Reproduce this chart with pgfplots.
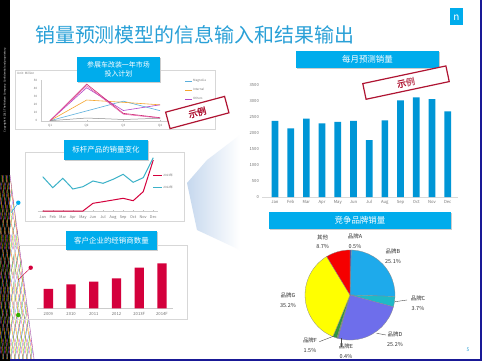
\documentclass[border=0pt]{standalone}
\usepackage{pgfplots}
\pgfplotsset{compat=1.18}
\usepackage{pgfplotstable}
\usepackage{fontspec}
\setmainfont{Noto Sans CJK SC}
\newfontfamily\stampfont[FakeBold=2]{Noto Sans CJK SC}

\definecolor{titleblue}{RGB}{41,160,215}
\definecolor{boxblue}{RGB}{0,172,236}
\definecolor{barblue}{RGB}{0,150,214}
\definecolor{crimson}{RGB}{212,0,60}
\definecolor{tealline}{RGB}{60,178,200}
\definecolor{stampred}{RGB}{175,20,50}
\definecolor{navyborder}{RGB}{25,25,150}
\definecolor{framegray}{RGB}{215,215,215}
\definecolor{shadeblue}{RGB}{198,216,238}
\definecolor{lblue}{RGB}{90,175,220}
\definecolor{lorange}{RGB}{245,165,45}
\definecolor{lpurple}{RGB}{180,70,200}
\definecolor{lmagenta}{RGB}{205,35,110}
\definecolor{lpink}{RGB}{225,80,160}
\definecolor{lgray}{RGB}{140,140,140}
\definecolor{pie0}{RGB}{40,80,200}
\definecolor{pie1}{RGB}{30,170,235}
\definecolor{pie2}{RGB}{30,185,200}
\definecolor{pie3}{RGB}{110,110,235}
\definecolor{pie4}{RGB}{120,120,120}
\definecolor{pie5}{RGB}{50,150,60}
\definecolor{pie6}{RGB}{255,255,0}
\definecolor{pie7}{RGB}{245,0,0}

\pgfplotstableread{
idx pct
0 0.5
1 25.1
2 3.7
3 25.2
4 0.4
5 1.5
6 35.2
7 8.7
}\piedata

\pgfplotsset{
  every axis/.append style={
    scale only axis,
    axis line style={draw=black!20, line width=0.4bp},
    tick style={draw=black!25, line width=0.3bp},
    /pgf/number format/assume math mode=true,
    tick label style={text=black!55},
  },
}

\begin{document}
\begin{tikzpicture}
\path[use as bounding box] (0,0) rectangle (482bp,-361bp);
\begin{scope}[x=1bp,y=-1bp]
  \fill[white] (0,0) rectangle (482,361);
  % light gradient shape
  \shade[left color=shadeblue, right color=white] (240,135) -- (207,160) -- (187,183) -- (197,230) -- (240,250) -- cycle;
  % left strip and mesh
  \fill[black] (0,0) rectangle (10,361);
  \begin{scope}
    \clip (0,175) -- (10,175) -- (34,359) -- (0,359) -- cycle;
    \foreach \i in {0,...,34} {
      \draw[red!70, line width=0.25bp] (\i*4-50,175) -- (\i*4,361);
      \draw[blue!60, line width=0.25bp] (\i*4,175) -- (\i*4-50,361);
      \draw[yellow!80!orange, line width=0.25bp] (\i*4-30,175) -- (\i*4-8,361);
      \draw[green!60!black, line width=0.2bp] (\i*4-10,175) -- (\i*4-38,361);
    }
  \end{scope}
  \draw[violet!70, line width=0.4bp] (10,175) -- (34,359);
  \node[rotate=90, text=white, font=\fontsize{2.6}{3}\selectfont, inner sep=0] at (5,90) {Copyright © 2013 The Nielsen Company. Confidential and proprietary.};
  % dots
  \draw[boxblue, line width=0.4bp] (18.3,202.7) -- (11,213);
  \fill[boxblue] (18.3,202.7) circle (2.2);
  \draw[crimson, line width=0.4bp] (30.7,267.7) -- (18,280);
  \fill[crimson] (30.7,267.7) circle (2.2);
  \fill[green!60!black!80!yellow] (18.3,315) circle (2.2);
  % borders
  \fill[navyborder] (479.5,0) rectangle (482,361);
  \fill[navyborder] (10,359) rectangle (482,361);
  % logo
  \fill[boxblue] (450,8.3) rectangle (462.7,25);
  \node[text=white, font=\fontsize{10}{10}\selectfont, inner sep=0] at (456.3,17.8) {n};
  % title
  \node[anchor=base west, text=titleblue, font=\fontsize{20}{24}\selectfont, inner sep=0] at (35,42) {销量预测模型的信息输入和结果输出};
  % frames
  \draw[framegray, line width=0.5bp] (15,70) rectangle (215,129);
  \draw[framegray, line width=0.5bp] (25,152) rectangle (184,221);
  \draw[framegray, line width=0.5bp] (14,245) rectangle (187,319);
  % title boxes
  \fill[black!20] (78,58) rectangle (161,83);
  \fill[boxblue] (77,57) rectangle (160,82);
  \node[text=white, align=center, font=\fontsize{7}{9}\selectfont, inner sep=0] at (118.5,69.5) {参展车改装一年市场\\投入计划};
  \fill[black!20] (65,141) rectangle (149,161);
  \fill[boxblue] (64,140) rectangle (148,160);
  \node[text=white, font=\fontsize{7.5}{9}\selectfont, inner sep=0] at (106,150) {标杆产品的销量变化};
  \fill[black!20] (67,232) rectangle (158,251);
  \fill[boxblue] (66,231) rectangle (157,250);
  \node[text=white, font=\fontsize{7.5}{9}\selectfont, inner sep=0] at (111.5,240.5) {客户企业的经销商数量};
  \fill[black!20] (297,52) rectangle (440,69);
  \fill[boxblue] (296,51) rectangle (439,68);
  \node[text=white, font=\fontsize{8.5}{9}\selectfont, inner sep=0] at (367.5,59.5) {每月预测销量};
  \fill[black!20] (270,213) rectangle (452,230);
  \fill[boxblue] (269,212) rectangle (451,229);
  \node[text=white, font=\fontsize{8.5}{9}\selectfont, inner sep=0] at (360,220.5) {竞争品牌销量};
  \node[anchor=west, text=black!55, font=\fontsize{3}{3}\selectfont, inner sep=0] at (17,73) {Unit: Million};
\end{scope}

% ---- chart 1: market plan lines
\begin{axis}[at={(40.8bp,-120.7bp)}, anchor=south west,
  width=128.4bp, height=40.7bp,
  xmin=-0.25, xmax=3.25, ymin=0, ymax=50,
  axis x line*=bottom, axis y line*=left,
  xtick={0,1,2,3}, xticklabels={Q1,Q2,Q3,Q4},
  ytick={0,10,...,50}, major tick length=1bp,
  tick label style={font=\fontsize{3}{3.5}\selectfont},
  clip=false,
  legend style={at={(1.123,1.03)}, anchor=north west, draw=none, fill=none,
    font=\fontsize{3}{3.5}\selectfont, text=black!55, row sep=4.3bp, inner sep=0pt,
    nodes={inner sep=0.4bp}},
  legend cell align=left,
  legend image code/.code={\draw[#1] (0bp,0bp) -- (7bp,0bp);},
]
\addplot[lblue, line width=0.6bp] coordinates {(0,0) (1,12) (2,24) (3,12.3)};
\addlegendentry{Magnolia}
\addplot[lorange, line width=0.6bp] coordinates {(0,0) (1,25.4) (2,22.6) (3,19.5)};
\addlegendentry{Internal}
\addplot[lpurple, line width=0.6bp] coordinates {(0,0) (1,40.5) (2,12.5) (3,19.5)};
\addlegendentry{Others}
\addplot[lmagenta, line width=0.6bp, forget plot] coordinates {(0,0) (1,45) (2,9) (3,3.7)};
\addplot[lpink, line width=0.5bp, forget plot] coordinates {(0,0) (1,43) (2,8) (3,3.2)};
\addplot[lgray, line width=0.5bp, forget plot] coordinates {(0,0) (1,3.3) (2,1.5) (3,3)};
\end{axis}

% ---- chart 2: monthly forecast bars
\begin{axis}[at={(262.4bp,-197bp)}, anchor=south west,
  width=195.5bp, height=112.4bp,
  xmin=-0.8, xmax=11.65, ymin=0, ymax=3500,
  ybar, bar width=6.7bp,
  axis x line*=bottom, axis y line*=left,
  y axis line style={draw=none}, x axis line style={draw=black!15},
  ytick={0,500,...,3500}, xtick={0,...,11},
  xticklabels={Jan,Feb,Mar,Apr,May,Jun,Jul,Aug,Sep,Oct,Nov,Dec},
  major tick length=0pt,
  tick label style={font=\fontsize{4.2}{4.5}\selectfont},
  yticklabel style={/pgf/number format/1000 sep={}},
]
\addplot[fill=barblue, draw=none] coordinates {(0,2370) (1,2140) (2,2440) (3,2290) (4,2340) (5,2370) (6,1770) (7,2390) (8,3010) (9,3100) (10,3045) (11,2670)};
\end{axis}

% ---- chart 4: benchmark product lines
\begin{axis}[at={(37.7bp,-211bp)}, anchor=south west,
  width=120.6bp, height=58bp,
  xmin=-0.5, xmax=11.5, ymin=0, ymax=58,
  axis x line*=bottom, axis y line=none,
  xtick={0,...,11}, xtick align=center, major tick length=1.5bp,
  xticklabels={Jan,Feb,Mar,Apr,May,Jun,Jul,Aug,Sep,Oct,Nov,Dec},
  tick label style={font=\fontsize{3.8}{4}\selectfont},
  clip=false,
  legend style={at={(0.954,0.65)}, anchor=north west, draw=none, fill=none,
    font=\fontsize{3}{3.5}\selectfont, text=black!55, row sep=6.8bp, inner sep=0pt,
    nodes={inner sep=0.4bp}},
  legend cell align=left,
  legend image code/.code={\draw[#1] (0bp,0bp) -- (9bp,0bp);},
]
\addplot[crimson, line width=1bp] coordinates {(0,0) (1,0) (2,0) (3,0) (4,0) (5,7.7) (6,9.3) (7,11) (8,12.7) (9,10.3) (10,19.3) (11,51)};
\addlegendentry{2013年}
\addplot[tealline, line width=1bp] coordinates {(0,34.3) (1,23.3) (2,32.7) (3,22) (4,24.3) (5,30) (6,27.7) (7,31.7) (8,36.7) (9,28.7) (10,33.3) (11,53.3)};
\addlegendentry{2012年}
\end{axis}

% ---- chart 5: dealer counts
\begin{axis}[at={(37bp,-308.3bp)}, anchor=south west,
  width=136.3bp, height=50bp,
  xmin=-0.5, xmax=5.5, ymin=0, ymax=150,
  ybar, bar width=9.3bp,
  axis x line*=bottom, axis y line=none,
  xtick={0,...,5}, xticklabels={2009,2010,2011,2012,2013F,2014F},
  xtick align=center, major tick length=1.5bp,
  tick label style={font=\fontsize{4.2}{4.5}\selectfont},
]
\addplot[fill=crimson, draw=none] coordinates {(0,58) (1,72) (2,80) (3,90) (4,122) (5,135)};
\end{axis}

% ---- pie: competitor brands
\begin{axis}[at={(350bp,-295bp)}, anchor=center,
  width=90bp, height=90bp,
  xmin=-1, xmax=1, ymin=-1, ymax=1, hide axis, clip=false]
\addplot[draw=none] coordinates {(0,0)};
\def\pietotal{0}
\pgfplotsforeachungrouped \i in {0,...,7}{%
  \pgfplotstablegetelem{\i}{pct}\of\piedata
  \pgfmathsetmacro\pietotal{\pietotal+\pgfplotsretval}%
}
\def\cumul{0}
\pgfplotsforeachungrouped \i in {0,...,7}{%
  \pgfplotstablegetelem{\i}{pct}\of\piedata
  \pgfmathsetmacro\a{90-\cumul/\pietotal*360}%
  \pgfmathsetmacro\cumul{\cumul+\pgfplotsretval}%
  \pgfmathsetmacro\b{90-\cumul/\pietotal*360}%
  \pgfmathsetmacro\xa{cos(\a)}%
  \pgfmathsetmacro\ya{sin(\a)}%
  \edef\temp{\noexpand\filldraw[fill=pie\i, draw=black!45, line width=0.3bp] (axis cs:0,0) -- (axis cs:\xa,\ya) arc[start angle=\a, end angle=\b, radius=45bp] -- cycle;}%
  \temp
}
\end{axis}

\begin{scope}[x=1bp,y=-1bp]
  % pie labels
  \begin{scope}[every node/.style={align=center, text=black!80, font=\fontsize{5.5}{9.5}\selectfont, inner sep=0}]
    \node at (322.7,242) {其他\\8.7\%};
    \node at (355,241) {品牌A\\0.5\%};
    \node at (393,256) {品牌B\\25.1\%};
    \node at (418,303) {品牌C\\3.7\%};
    \node at (395,339) {品牌D\\25.2\%};
    \node at (346,351) {品牌E\\0.4\%};
    \node at (310,345) {品牌F\\1.5\%};
    \node at (288,300) {品牌G\\35.2\%};
  \end{scope}
  \draw[black!70, line width=0.4bp] (395,301.7) -- (407,300);
  \draw[black!70, line width=0.4bp] (376.7,333.3) -- (386,335);
  \draw[black!70, line width=0.4bp] (341,338) -- (341,346.7);
  \draw[black!70, line width=0.4bp] (334,336) -- (319.3,341.7);
  % stamps
  \node[draw=stampred, line width=1.2bp, fill=white, rotate=15, minimum width=61bp, minimum height=17bp, inner sep=0] at (197.3,112.5) {};
  \node[rotate=15, inner sep=0, font=\stampfont\fontsize{9}{9}\selectfont, text=stampred] at (197.3,112.5) {示例};
  \node[draw=stampred, line width=1.2bp, fill=white, rotate=12, minimum width=85bp, minimum height=16bp, inner sep=0] at (406,82.6) {};
  \node[rotate=12, inner sep=0, font=\stampfont\fontsize{9}{9}\selectfont] at (406,82.6) {\textcolor{stampred}{示}\textcolor{stampred!70}{例}};
  % page number
  \node[text=titleblue, font=\fontsize{5}{5}\selectfont, inner sep=0] at (468,350) {5};
\end{scope}
\end{tikzpicture}
\end{document}
